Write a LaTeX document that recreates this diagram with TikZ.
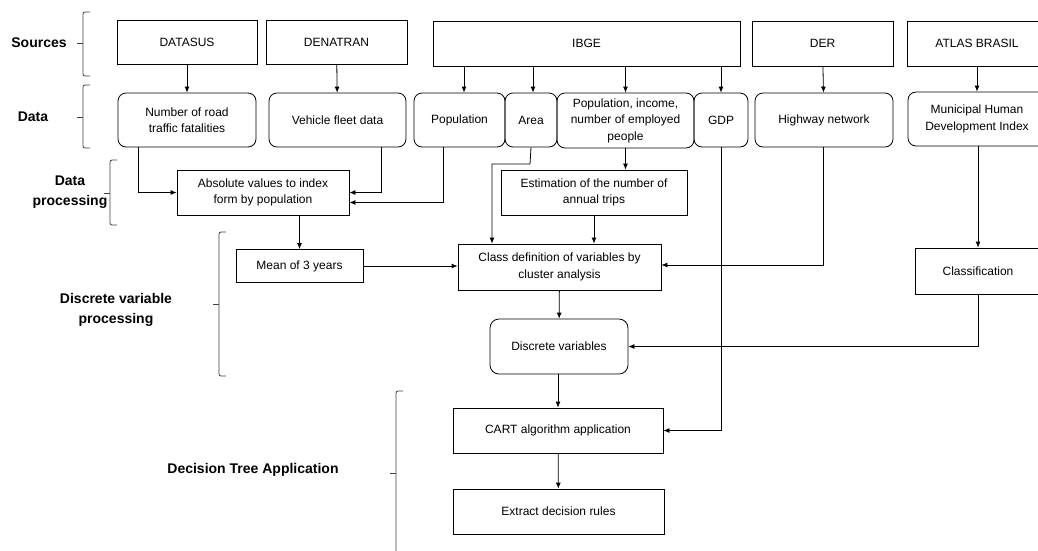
\documentclass[tikz,border=0pt]{standalone}
\usepackage{fontspec}
\setmainfont{Liberation Sans}
\usetikzlibrary{arrows.meta}

\tikzset{
	srcbox/.style={draw, line width=0.8pt, inner sep=2pt, align=center, font=\fontsize{12}{16.5}\selectfont},
	databox/.style={srcbox, rounded corners=8pt},
	stagelabel/.style={align=center, font=\fontsize{14}{20}\selectfont\bfseries},
	brak/.style={draw=black!75, line width=0.8pt, rounded corners=2pt},
}

\begin{document}
\begin{tikzpicture}[x=1pt, y=-1pt, >={Latex[length=6pt,width=5pt]}, line width=0.8pt]
	\clip (0,0) rectangle (1038,550);

	% sources
	\node[srcbox, minimum width=140pt, minimum height=44pt] (datasus) at (187,42) {DATASUS};
	\node[srcbox, minimum width=141pt, minimum height=44pt] (denatran) at (336.5,42) {DENATRAN};
	\node[srcbox, minimum width=307pt, minimum height=45pt] (ibge) at (586.5,43.5) {IBGE};
	\node[srcbox, minimum width=141pt, minimum height=45pt] (der) at (822.5,43.5) {DER};
	\node[srcbox, minimum width=140pt, minimum height=45pt] (atlas) at (977,43.5) {ATLAS BRASIL};

	% data
	\node[databox, minimum width=138pt, minimum height=54pt] (fatal) at (187,120) {Number of road\\traffic fatalities};
	\node[databox, minimum width=137pt, minimum height=54pt] (fleet) at (337.5,120) {Vehicle fleet data};
	\node[databox, minimum width=91pt, minimum height=54pt] (popul) at (459.5,120) {Population};
	\node[databox, minimum width=52pt, minimum height=54pt] (area) at (531,120) {Area};
	\node[databox, minimum width=137pt, minimum height=55pt, inner sep=0pt] (popinc) at (625.5,120.5) {Population, income,\\number of employed\\people};
	\node[databox, minimum width=54pt, minimum height=54pt] (gdp) at (721,120) {GDP};
	\node[databox, minimum width=138pt, minimum height=54pt] (highway) at (824,120) {Highway network};
	\node[databox, minimum width=138pt, minimum height=54pt] (hdi) at (977,119) {Municipal Human\\Development Index};

	% processing
	\node[srcbox, minimum width=172pt, minimum height=45pt] (absval) at (263,192.5) {Absolute values to index\\form by population};
	\node[srcbox, minimum width=186pt, minimum height=45pt] (trips) at (594,192.5) {Estimation of the number of\\annual trips};
	\node[srcbox, minimum width=127pt, minimum height=33pt] (mean) at (299.5,266) {Mean of 3 years};
	\node[srcbox, minimum width=203pt, minimum height=46pt] (class) at (559.5,267) {Class definition of variables by\\cluster analysis};
	\node[srcbox, minimum width=126pt, minimum height=46pt] (classif) at (978,271) {Classification};
	\node[databox, minimum width=138pt, minimum height=55pt, rounded corners=9pt] (discrete) at (559,346.5) {Discrete variables};
	\node[srcbox, minimum width=210pt, minimum height=45pt] (cart) at (558,430.5) {CART algorithm application};
	\node[srcbox, minimum width=211pt, minimum height=45pt] (rules) at (558.5,511.5) {Extract decision rules};

	% stage labels
	\node[stagelabel] (lsources) at (39,43) {Sources};
	\node[stagelabel] (ldata) at (33,117) {Data};
	\node[stagelabel] (lproc) at (70,192) {Data\\processing};
	\node[stagelabel] (ldiscrete) at (116,310) {Discrete variable\\processing};
	\node[stagelabel] (ltree) at (253,470) {Decision Tree Application};

	% brackets
	\draw[brak] (90,12) -- (83,12) -- (83,76) -- (90,76);
	\draw[brak] (77,43) -- (83,43);
	\draw[brak] (90,85) -- (83,85) -- (83,148) -- (90,148);
	\draw[brak] (77,117) -- (83,117);
	\draw[brak] (117,160) -- (110,160) -- (110,225) -- (117,225);
	\draw[brak] (104,193) -- (110,193);
	\draw[brak] (226,232) -- (219,232) -- (219,376) -- (226,376);
	\draw[brak] (213,304) -- (219,304);
	\draw[brak] (403,391) -- (396,391) -- (396,560);
	\draw[brak] (390,473) -- (396,473);

	% sources to data
	\draw[->] (datasus) -- (fatal);
	\draw[->] (denatran) -- (fleet);
	\draw[->] (ibge.south -| 464,0) -- (464,0 |- popul.north);
	\draw[->] (ibge.south -| 533,0) -- (533,0 |- area.north);
	\draw[->] (ibge.south -| popinc) -- (popinc);
	\draw[->] (ibge.south -| gdp) -- (gdp);
	\draw[->] (der) -- (highway);
	\draw[->] (atlas) -- (hdi);

	% data to processing
	\draw[->] ([xshift=-49pt]fatal.south) |- (absval.west);
	\draw[->] ([xshift=43.5pt]fleet.south) |- (absval.east);
	\draw[->] ([xshift=-16.5pt]popul.south) |- ([yshift=-10pt]absval.east);
	\draw[->] (area.south) -- (530,164) -- (492,164) -- (492,0 |- class.north);
	\draw[->] (popinc) -- (popinc.south |- trips.north);
	\draw[->] (trips) -- (trips.south |- class.north);
	\draw[->] (absval.south -| mean) -- (mean);
	\draw[->] (mean) -- (mean -| class.west);
	\draw[->] ([xshift=-1pt]highway.south) |- ([yshift=2pt]class.east);
	\draw[->] (hdi.south -| classif) -- (classif);
	\draw[->] (class) -- (discrete);
	\draw[->] (classif) |- (discrete);
	\draw[->] (gdp) |- (cart);
	\draw[->] (discrete.south -| cart) -- (cart);
	\draw[->] (cart) -- (rules);
\end{tikzpicture}
\end{document}
